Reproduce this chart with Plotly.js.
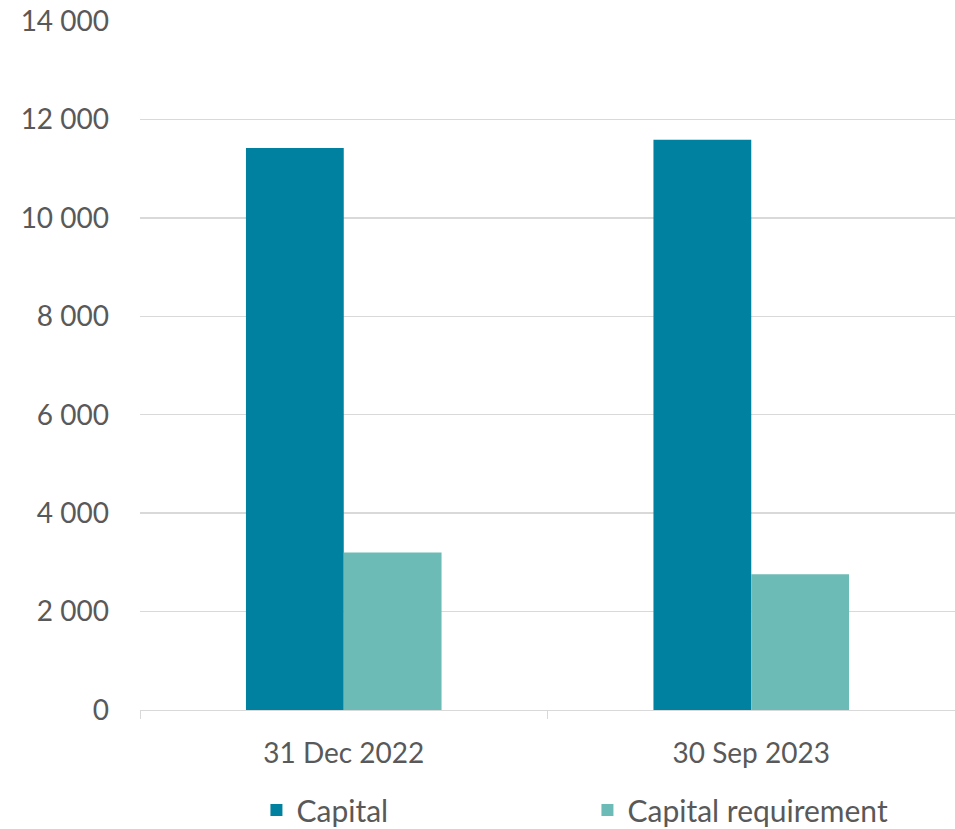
<!DOCTYPE html>
<html>
<head>
<meta charset="utf-8">
<script src="https://cdn.plot.ly/plotly-3.0.1.min.js"></script>
<style>html,body{margin:0;padding:0;background:#fff;}#chart{width:955px;height:829px;}</style>
</head>
<body>
<div id="chart"></div>
<script>
const categories = ["31 Dec 2022", "30 Sep 2023"];
const capital = [11420, 11585];
const capitalRequirement = [3200, 2760];
const yTicks = [0, 2000, 4000, 6000, 8000, 10000, 12000, 14000];

const font = "Lato, 'Open Sans', sans-serif";
const data = [
  {type: "bar", name: "Capital", x: categories, y: capital, marker: {color: "#00819F"}},
  {type: "bar", name: "Capital requirement", x: categories, y: capitalRequirement, marker: {color: "#6CBBB6"}}
];
const layout = {
  width: 955, height: 829,
  margin: {l: 140, r: 0, t: 21, b: 119, autoexpand: false},
  separators: ". ",
  barmode: "group",
  bargap: 0.52,
  bargroupgap: 0,
  paper_bgcolor: "#fff", plot_bgcolor: "#fff",
  font: {family: font, size: 28, color: "#595959"},
  showlegend: true,
  legend: {orientation: "h", x: 0.549, xanchor: "center", y: -0.145, yanchor: "middle",
           font: {family: font, size: 30, color: "#595959"},
           entrywidth: 286, entrywidthmode: "pixels", itemwidth: 30},
  xaxis: {type: "category", showgrid: false, showline: true, linecolor: "#d9d9d9", linewidth: 1.3,
          ticks: "outside", tickson: "boundaries", ticklen: 8, tickcolor: "#d9d9d9",
          ticklabelstandoff: 18, zeroline: false},
  yaxis: {range: [0, 14000], tickvals: yTicks, tickformat: ",", showgrid: true, gridcolor: "#d9d9d9",
          gridwidth: 1.3, zeroline: false, showline: false, ticks: "", ticklabelstandoff: 30}
};
Plotly.newPlot("chart", data, layout, {displayModeBar: false, staticPlot: true});
</script>
</body>
</html>
